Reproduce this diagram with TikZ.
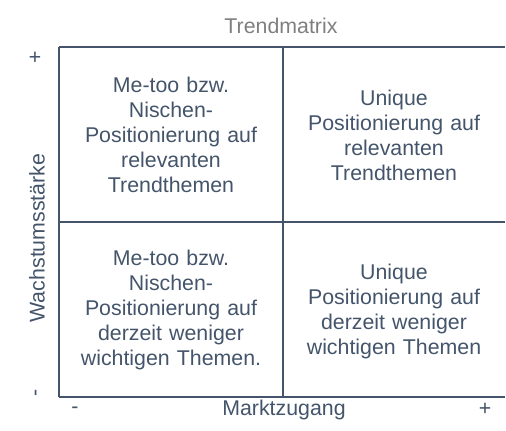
\documentclass[tikz,border=0pt]{standalone}
\usepackage{fontspec}
\setmainfont{Liberation Sans}
\begin{document}
\definecolor{slate}{HTML}{44546A}
\definecolor{titlegray}{HTML}{7F7F7F}
\begin{tikzpicture}[x=0.75pt,y=-0.75pt,
  every node/.style={inner sep=0pt, outer sep=0pt, font=\fontsize{16}{18.75}\selectfont, text=slate},
  grid/.style={draw=slate, line width=1.9pt},
  cell/.style={align=center, text width=200pt},
  axislabel/.style={text=slate},
  title/.style={text=titlegray}]
  \useasboundingbox (0,0) rectangle (506,430);

  % frame corners and dividers
  \coordinate (tl) at (59,47);
  \coordinate (bl) at (59,397);
  \coordinate (ml) at (59,222);
  \coordinate (tr) at (505,47);
  \coordinate (mr) at (505,222);
  \coordinate (br) at (505,397);
  \coordinate (tm) at (283,47);
  \coordinate (bm) at (283,397);

  \draw[grid] (tl) -- (tr);
  \draw[grid] (ml) -- (mr);
  \draw[grid] (bl) -- (br);
  \draw[grid] (tl) -- (bl);
  \draw[grid] (tm) -- (bm);

  % title
  \node[title] (ttl) at (281,26) {Trendmatrix};

  % quadrant texts
  \node[cell] (q1) at (171,135) {Me-too bzw.\\Nischen-\\Positionierung auf\\relevanten\\Trendthemen};
  \node[cell] (q2) at (394,135) {Unique\\Positionierung auf\\relevanten\\Trendthemen};
  \node[cell] (q3) at (171,310) {Me-too bzw.\\Nischen-\\Positionierung auf\\derzeit weniger\\wichtigen Themen.};
  \node[cell] (q4) at (394,311) {Unique\\Positionierung auf\\derzeit weniger\\wichtigen Themen};

  % vertical axis
  \node[axislabel, rotate=90] (ylab) at (37,238) {Wachstumsstärke};
  \node[axislabel, rotate=90] (yplus) at (36,57) {+};
  \node[axislabel, rotate=90] (yminus) at (38,393) {-};

  % horizontal axis
  \node[axislabel] (xlab) at (284,410) {Marktzugang};
  \node[axislabel] (xminus) at (75,410) {-};
  \node[axislabel] (xplus) at (485,409) {+};
\end{tikzpicture}
\end{document}
